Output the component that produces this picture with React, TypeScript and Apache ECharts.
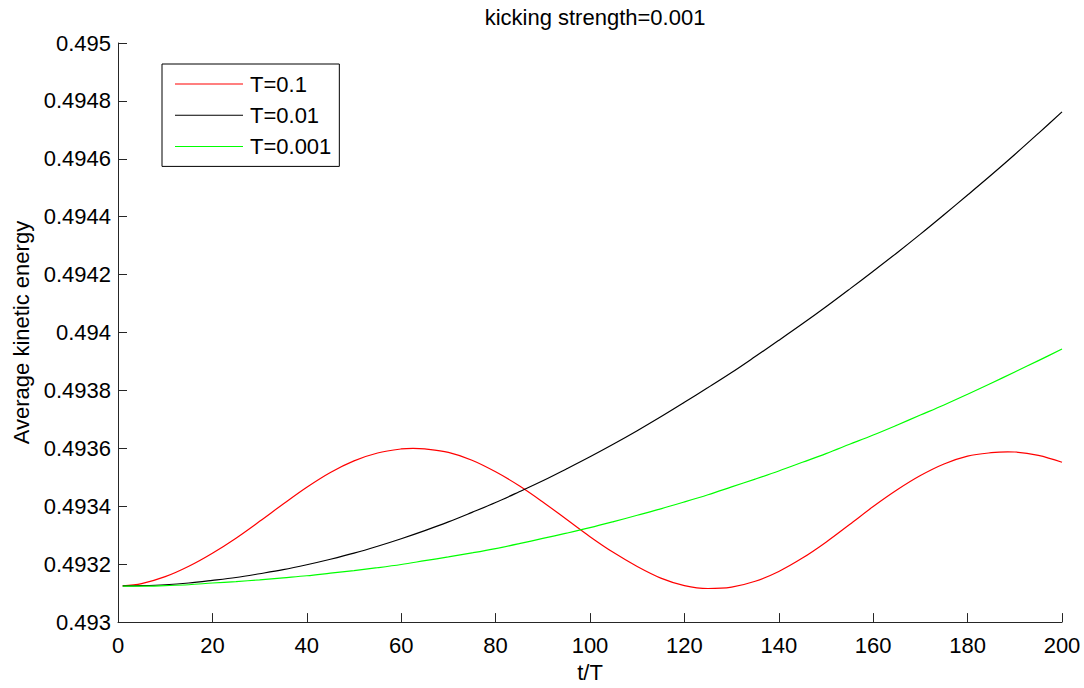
import React, { useEffect, useRef } from "react";
import * as echarts from "echarts";

// time in kicking periods
const steps = [
  1, 5, 10, 15, 20, 25, 30, 35, 40, 45, 50, 55, 60, 65, 70, 75, 80, 85, 90, 95,
  100, 105, 110, 115, 120, 125, 130, 135, 140, 145, 150, 155, 160, 165, 170,
  175, 180, 185, 190, 195, 200,
];

// the oscillating run is also sampled at its two maxima
const stepsT01 = [
  1, 5, 10, 15, 20, 25, 30, 35, 40, 45, 50, 55, 60, 62.5, 65, 70, 75, 80, 85,
  90, 95, 100, 105, 110, 115, 120, 125, 130, 135, 140, 145, 150, 155, 160, 165,
  170, 175, 180, 185, 188.5, 190, 195, 200,
];

// average kinetic energy, T = 0.1
const energyT01 = [
  0.493125, 0.493133, 0.493157, 0.493193, 0.493238, 0.49329, 0.493348,
  0.493408, 0.493466, 0.493517, 0.493557, 0.493584, 0.493598, 0.4936,
  0.493598, 0.493586, 0.493559, 0.493519, 0.493471, 0.493415, 0.493355,
  0.493295, 0.49324, 0.493192, 0.493152, 0.493126, 0.493116, 0.493121,
  0.493141, 0.493175, 0.493221, 0.493276, 0.493337, 0.493399, 0.493456,
  0.493506, 0.493546, 0.493573, 0.493585, 0.493588, 0.4935875, 0.493576,
  0.493552,
];

// average kinetic energy, T = 0.01
const energyT001 = [
  0.493125, 0.493126, 0.493129, 0.493135, 0.493144, 0.493154, 0.493167,
  0.493181, 0.493198, 0.493217, 0.493238, 0.493262, 0.493288, 0.493316,
  0.493346, 0.493379, 0.493413, 0.49345, 0.493488, 0.493529, 0.493571,
  0.493615, 0.493661, 0.493709, 0.493759, 0.49381, 0.493862, 0.493917,
  0.493973, 0.49403, 0.494089, 0.49415, 0.494212, 0.494275, 0.49434,
  0.494407, 0.494475, 0.494544, 0.494615, 0.494688, 0.494762,
];

// average kinetic energy, T = 0.001
const energyT0001 = [
  0.493124, 0.493124, 0.493126, 0.493129, 0.493135, 0.49314, 0.493146,
  0.493153, 0.49316, 0.493169, 0.493178, 0.493188, 0.493199, 0.493212,
  0.493225, 0.493239, 0.493254, 0.493271, 0.493289, 0.493307, 0.493326,
  0.493347, 0.493369, 0.493391, 0.493415, 0.49344, 0.493467, 0.493494,
  0.493522, 0.493552, 0.493582, 0.493614, 0.493646, 0.49368, 0.493715,
  0.49375, 0.493787, 0.493825, 0.493864, 0.493903, 0.493943,
];

const seriesNames = ["T=0.1", "T=0.01", "T=0.001"];
const seriesColors = ["#ff0000", "#000000", "#00ff00"];

const FONT = "'Liberation Sans', Arial, Helvetica, sans-serif";
const FS = 22;

function pairs(times: number[], values: number[]) {
  return times.map((t, i) => [t, values[i]]);
}

function formatTick(v: number) {
  return v.toFixed(4).replace(/0+$/, "").replace(/\.$/, "");
}

export default function App() {
  const ref = useRef<HTMLDivElement>(null);

  useEffect(() => {
    if (!ref.current) return;
    const chart = echarts.init(ref.current, null, { renderer: "svg" });
    const axisColor = "#262626";
    const data = [
      pairs(stepsT01, energyT01),
      pairs(steps, energyT001),
      pairs(steps, energyT0001),
    ];

    chart.setOption({
      animation: false,
      backgroundColor: "#ffffff",
      textStyle: { fontFamily: FONT },
      title: {
        text: "kicking strength=0.001",
        left: 590,
        top: 1,
        textAlign: "center",
        textStyle: { fontFamily: FONT, fontSize: FS, fontWeight: "normal", color: "#000" },
      },
      grid: { left: 118, right: 22, top: 43, bottom: 62 },
      legend: {
        orient: "vertical",
        left: 162,
        top: 64,
        padding: [9, 8, 9, 13],
        itemGap: 9.2,
        itemWidth: 68,
        itemHeight: 1,
        icon: "rect",
        borderColor: "#000",
        borderWidth: 1,
        backgroundColor: "#fff",
        data: seriesNames.map((n) => ({ name: n })),
        textStyle: { fontFamily: FONT, fontSize: FS, color: "#000", padding: [0, 0, 0, 2] },
      },
      xAxis: {
        type: "value",
        min: 0,
        max: 200,
        interval: 20,
        name: "t/T",
        nameLocation: "middle",
        nameGap: 36,
        nameTextStyle: { fontFamily: FONT, fontSize: FS, color: "#000" },
        axisLine: { show: true, lineStyle: { color: axisColor, width: 1 } },
        axisTick: { show: true, inside: true, length: 9, lineStyle: { color: axisColor } },
        axisLabel: { fontFamily: FONT, fontSize: FS, color: "#000", margin: 12 },
        splitLine: { show: false },
      },
      yAxis: {
        type: "value",
        min: 0.493,
        max: 0.495,
        interval: 0.0002,
        name: "Average kinetic energy",
        nameLocation: "middle",
        nameGap: 83,
        nameTextStyle: { fontFamily: FONT, fontSize: FS, color: "#000" },
        axisLine: { show: true, lineStyle: { color: axisColor, width: 1 } },
        axisTick: { show: true, inside: true, length: 9, lineStyle: { color: axisColor } },
        axisLabel: {
          fontFamily: FONT,
          fontSize: FS,
          color: "#000",
          margin: 7,
          formatter: (v: number) => formatTick(v),
        },
        splitLine: { show: false },
      },
      series: seriesNames.map((name, i) => ({
        name,
        type: "line",
        data: data[i],
        smooth: 0.35,
        showSymbol: false,
        symbol: "none",
        lineStyle: { color: seriesColors[i], width: 1.2 },
        itemStyle: { color: seriesColors[i] },
      })),
    });

    return () => chart.dispose();
  }, []);

  return (
    <div
      ref={ref}
      style={{ position: "fixed", left: 0, top: 0, width: 1084, height: 688 }}
    />
  );
}
